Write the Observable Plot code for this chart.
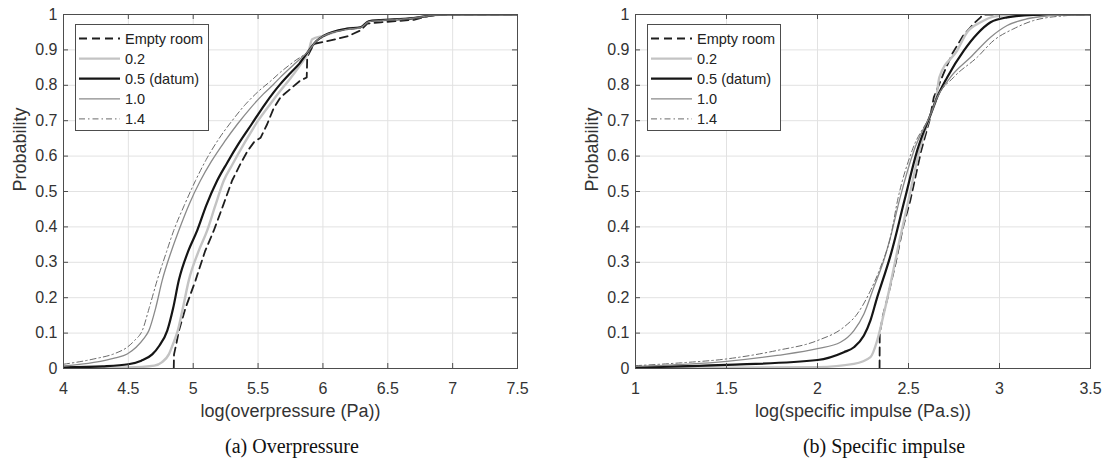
<!DOCTYPE html>
<html>
<head>
<meta charset="utf-8">
<script src="https://cdn.jsdelivr.net/npm/d3@7"></script>
<script src="https://cdn.jsdelivr.net/npm/@observablehq/plot@0.6"></script>
<style>
  html, body { margin: 0; padding: 0; background: #fff; }
  #wrap { position: relative; width: 1103px; height: 462px; overflow: hidden; background: #fff;
          font-family: "Liberation Sans", Arial, Helvetica, sans-serif; }
  .panel { position: absolute; top: 0; }
  .legend { position: absolute; top: 24px; }
  .cap { position: absolute; top: 436px; font-family: "Liberation Serif", "Times New Roman", serif;
         font-size: 20px; line-height: 20px; color: #111; transform: translateX(-50%); white-space: nowrap; }
</style>
</head>
<body>
<div id="wrap">
  <div id="left" class="panel" style="left:0px"></div>
  <div id="right" class="panel" style="left:552px"></div>
  <div class="cap" style="left:292px">(a) Overpressure</div>
  <div class="cap" style="left:884px">(b) Specific impulse</div>
</div>
<script>
// ---------- Data ----------
const seriesNames = ["Empty room", "0.2", "0.5 (datum)", "1.0", "1.4"];
const yTicks = [0, 0.1, 0.2, 0.3, 0.4, 0.5, 0.6, 0.7, 0.8, 0.9, 1];

// (a) Overpressure: [log(overpressure), probability]
const opTicks = [4, 4.5, 5, 5.5, 6, 6.5, 7, 7.5];
const opEmpty = [[4.85,0],[4.852,0.04],[4.87,0.07],[4.89,0.107],[4.94,0.17],[5.018,0.249],[5.09,0.33],[5.159,0.39],[5.23,0.46],[5.30,0.531],[5.36,0.575],[5.42,0.615],[5.47,0.64],[5.52,0.652],[5.57,0.69],[5.62,0.735],[5.673,0.766],[5.75,0.79],[5.827,0.814],[5.875,0.822],[5.879,0.88],[5.93,0.917],[6.059,0.927],[6.187,0.938],[6.29,0.955],[6.342,0.974],[6.444,0.978],[6.701,0.985],[6.83,0.997],[6.958,1],[7.5,1]];
const op02 = [[4,0.002],[4.5,0.003],[4.7,0.008],[4.76,0.018],[4.812,0.04],[4.845,0.07],[4.881,0.107],[4.92,0.17],[4.966,0.249],[5.04,0.33],[5.108,0.39],[5.17,0.46],[5.236,0.531],[5.3,0.575],[5.4,0.64],[5.5,0.7],[5.6,0.75],[5.673,0.785],[5.75,0.82],[5.82,0.855],[5.891,0.898],[5.917,0.93],[6.007,0.94],[6.187,0.96],[6.29,0.964],[6.354,0.981],[6.444,0.984],[6.701,0.99],[6.83,0.997],[6.958,1],[7.5,1]];
const op05 = [[4,0.003],[4.3,0.006],[4.5,0.012],[4.6,0.022],[4.684,0.04],[4.74,0.065],[4.8,0.107],[4.845,0.17],[4.889,0.249],[4.96,0.33],[5.031,0.39],[5.1,0.46],[5.185,0.531],[5.26,0.58],[5.35,0.635],[5.45,0.69],[5.55,0.745],[5.62,0.78],[5.673,0.804],[5.75,0.835],[5.82,0.862],[5.891,0.898],[5.95,0.925],[6.007,0.94],[6.187,0.96],[6.29,0.964],[6.354,0.981],[6.444,0.984],[6.701,0.99],[6.83,0.997],[6.958,1],[7.5,1]];
const op10 = [[4,0.007],[4.234,0.017],[4.4,0.03],[4.491,0.041],[4.56,0.06],[4.62,0.085],[4.658,0.107],[4.71,0.17],[4.761,0.249],[4.83,0.33],[4.889,0.39],[4.97,0.465],[5.056,0.531],[5.14,0.585],[5.24,0.64],[5.34,0.69],[5.44,0.735],[5.54,0.775],[5.62,0.803],[5.673,0.823],[5.78,0.86],[5.891,0.898],[5.95,0.925],[6.007,0.94],[6.187,0.958],[6.29,0.963],[6.354,0.98],[6.444,0.983],[6.701,0.99],[6.83,0.997],[6.958,1],[7.5,1]];
const op14 = [[4,0.012],[4.234,0.027],[4.4,0.043],[4.491,0.06],[4.55,0.08],[4.607,0.107],[4.66,0.17],[4.722,0.249],[4.79,0.325],[4.85,0.39],[4.93,0.46],[5.018,0.531],[5.1,0.59],[5.2,0.65],[5.3,0.7],[5.4,0.745],[5.5,0.782],[5.6,0.813],[5.673,0.837],[5.78,0.868],[5.891,0.898],[5.95,0.925],[6.007,0.938],[6.187,0.957],[6.29,0.962],[6.354,0.979],[6.444,0.983],[6.701,0.99],[6.83,0.997],[6.958,1],[7.5,1]];

// (b) Specific impulse: [log(specific impulse), probability]
const impTicks = [1, 1.5, 2, 2.5, 3, 3.5];
const impEmpty = [[2.341,0],[2.342,0.1],[2.36,0.15],[2.385,0.2],[2.43,0.3],[2.47,0.4],[2.51,0.475],[2.57,0.616],[2.615,0.7],[2.639,0.766],[2.69,0.83],[2.74,0.889],[2.8,0.94],[2.86,0.975],[2.896,0.992],[2.91,1],[3.5,1]];
const imp02 = [[1,0.001],[2.0,0.004],[2.2,0.013],[2.291,0.032],[2.328,0.079],[2.364,0.154],[2.401,0.239],[2.45,0.36],[2.5,0.475],[2.56,0.616],[2.63,0.729],[2.65,0.757],[2.67,0.823],[2.767,0.898],[2.822,0.95],[2.896,0.978],[2.969,0.994],[3.097,1],[3.5,1]];
const imp05 = [[1,0.003],[1.5,0.01],[2.0,0.024],[2.145,0.046],[2.2,0.06],[2.255,0.093],[2.291,0.136],[2.328,0.201],[2.364,0.258],[2.401,0.319],[2.478,0.475],[2.548,0.616],[2.63,0.729],[2.65,0.757],[2.713,0.823],[2.804,0.898],[2.877,0.945],[2.951,0.978],[3.042,0.992],[3.188,0.999],[3.3,1],[3.5,1]];
const imp10 = [[1,0.006],[1.5,0.02],[1.778,0.037],[2.0,0.056],[2.126,0.074],[2.2,0.107],[2.255,0.154],[2.31,0.23],[2.364,0.305],[2.401,0.371],[2.45,0.475],[2.53,0.616],[2.63,0.729],[2.65,0.757],[2.731,0.823],[2.841,0.879],[2.951,0.936],[3.042,0.969],[3.152,0.988],[3.28,0.997],[3.4,1],[3.5,1]];
const imp14 = [[1,0.008],[1.25,0.016],[1.5,0.027],[1.778,0.051],[2.0,0.079],[2.145,0.117],[2.218,0.154],[2.291,0.22],[2.346,0.286],[2.401,0.371],[2.44,0.475],[2.52,0.616],[2.63,0.729],[2.65,0.757],[2.749,0.823],[2.877,0.879],[2.969,0.927],[3.079,0.96],[3.188,0.983],[3.372,0.997],[3.48,1],[3.5,1]];

// ---------- Styles ----------
const styles = {
  "Empty room":  {stroke: "#1e1e1e", strokeWidth: 1.8, strokeDasharray: "8,5", curve: "linear"},
  "0.2":         {stroke: "#c3c3c3", strokeWidth: 2.4, strokeDasharray: null, curve: "monotone-x"},
  "0.5 (datum)": {stroke: "#151515", strokeWidth: 2.2, strokeDasharray: null, curve: "monotone-x"},
  "1.0":         {stroke: "#8a8a8a", strokeWidth: 1.3, strokeDasharray: null, curve: "monotone-x"},
  "1.4":         {stroke: "#6a6a6a", strokeWidth: 1.0, strokeDasharray: "6,3,1.5,3", curve: "monotone-x"}
};
const axisColor = "#4d4d4d";
const gridColor = "#e2e2e2";
const textColor = "#333";
const FONT = '"Liberation Sans", Arial, Helvetica, sans-serif';

function panel({xDomain, xTicks, data, xLabel, width, marginLeft, marginRight}) {
  const H = 430, mt = 14, mb = 62;
  const innerH = H - mt - mb, innerW = width - marginLeft - marginRight;
  const lines = seriesNames.map((name, i) => {
    const s = styles[name];
    const o = {x: d => d[0], y: d => d[1], stroke: s.stroke, strokeWidth: s.strokeWidth, curve: s.curve, clip: true};
    if (s.strokeDasharray) o.strokeDasharray = s.strokeDasharray;
    return Plot.line(data[i], o);
  });
  return Plot.plot({
    width, height: H, marginLeft, marginRight, marginTop: mt, marginBottom: mb,
    x: {domain: xDomain},
    y: {domain: [0, 1]},
    style: {background: "transparent", fontFamily: FONT, fontSize: "16px", color: textColor, overflow: "visible"},
    marks: [
      Plot.gridX(xTicks, {stroke: gridColor, strokeOpacity: 1}),
      Plot.gridY(yTicks, {stroke: gridColor, strokeOpacity: 1}),
      ...lines,
      Plot.ruleX(xTicks, {stroke: axisColor, insetTop: innerH - 5}),
      Plot.ruleX(xTicks, {stroke: axisColor, insetBottom: innerH - 5}),
      Plot.ruleY(yTicks, {stroke: axisColor, insetRight: innerW - 5}),
      Plot.ruleY(yTicks, {stroke: axisColor, insetLeft: innerW - 5}),
      Plot.frame({stroke: axisColor}),
      Plot.axisX(xTicks, {tickSize: 0, tickPadding: 14, fontSize: 16, fill: textColor, label: null, tickFormat: d => String(d)}),
      Plot.axisY(yTicks, {tickSize: 0, tickPadding: 6, fontSize: 16, fill: textColor, label: null, tickFormat: d => String(d)}),
      Plot.text([xLabel], {frameAnchor: "bottom", dy: 48, fontSize: 18, fill: textColor}),
      Plot.text(["Probability"], {frameAnchor: "left", dx: -43.5, rotate: -90, fontSize: 18, fill: textColor})
    ]
  });
}

function legend(left) {
  const w = 134, h = 107;
  const svg = d3.create("svg").attr("width", w).attr("height", h)
    .attr("class", "legend").style("left", left + "px");
  svg.append("rect").attr("x", 0.5).attr("y", 0.5).attr("width", w - 1).attr("height", h - 1)
    .attr("fill", "#fff").attr("stroke", axisColor);
  seriesNames.forEach((name, i) => {
    const s = styles[name];
    const y = 14.5 + i * 20.1;
    const l = svg.append("line").attr("x1", 4).attr("x2", 45).attr("y1", y).attr("y2", y)
      .attr("stroke", s.stroke).attr("stroke-width", s.strokeWidth);
    if (s.strokeDasharray) l.attr("stroke-dasharray", s.strokeDasharray);
    svg.append("text").attr("x", 50).attr("y", y).attr("dy", "0.36em")
      .attr("font-family", FONT).attr("font-size", 14.5).attr("fill", "#222").text(name);
  });
  return svg.node();
}

const left = document.getElementById("left");
left.appendChild(panel({
  xDomain: [4, 7.5], xTicks: opTicks, data: [opEmpty, op02, op05, op10, op14],
  xLabel: "log(overpressure (Pa))", width: 552, marginLeft: 63, marginRight: 35
}));
const right = document.getElementById("right");
right.appendChild(panel({
  xDomain: [1, 3.5], xTicks: impTicks, data: [impEmpty, imp02, imp05, imp10, imp14],
  xLabel: "log(specific impulse (Pa.s))", width: 551, marginLeft: 83, marginRight: 13
}));
const wrap = document.getElementById("wrap");
wrap.appendChild(legend(75));
wrap.appendChild(legend(647));
</script>
</body>
</html>
